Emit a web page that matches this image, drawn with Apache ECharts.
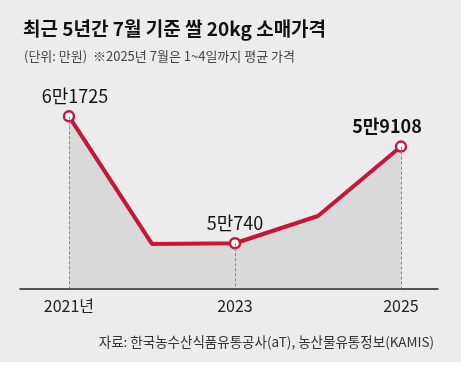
<!DOCTYPE html>
<html><head><meta charset="utf-8">
<script src="https://cdn.jsdelivr.net/npm/echarts@6/dist/echarts.min.js"></script>
<style>html,body{margin:0;padding:0;background:#fff;}#c{width:461px;height:367px;}</style>
</head><body><div id="c"></div>
<script>
const years = [2021, 2022, 2023, 2024, 2025];
const prices = [6.1725, 5.068, 5.074, 5.31, 5.9108];
const priceLabels = ['6만1725', '', '5만740', '', '5만9108'];
const markedYears = [2021, 2023, 2025];
const tickLabels = ['2021년', '2023', '2025'];
const yMin = 4.684, yMax = 6.32;

const font = '"Noto Sans CJK KR", "Noto Sans", sans-serif';
const chart = echarts.init(document.getElementById('c'), null, {renderer: 'canvas'});

const seriesData = years.map((y, i) => [y, prices[i]]);

const points = years.map((y, i) => {
  const marked = markedYears.includes(y);
  return {
    value: [y, prices[i]],
    symbol: marked ? 'circle' : 'none',
    label: {
      show: priceLabels[i] !== '',
      formatter: priceLabels[i],
      position: 'top',
      distance: 5,
      offset: i === 0 ? [6, 0] : (i === 4 ? [-14, 0] : [0, 0]),
      fontSize: 18,
      fontWeight: i === 4 ? 'bold' : 'normal',
      color: '#111',
      fontFamily: font
    }
  };
});

const dropLines = markedYears.map(y => {
  const v = prices[years.indexOf(y)];
  return [{coord: [y, v]}, {coord: [y, yMin]}];
});

chart.setOption({
  backgroundColor: '#ebeceb',
  animation: false,
  title: [
    {text: '최근 5년간 7월 기준 쌀 20kg 소매가격', left: 18, top: 14,
     textStyle: {fontSize: 19, fontWeight: 'bold', color: '#111', fontFamily: font}},
    {text: '(단위: 만원)  ※2025년 7월은 1~4일까지 평균 가격', left: 19, top: 45,
     textStyle: {fontSize: 13, fontWeight: 'normal', color: '#444', fontFamily: font}},
    {text: '자료: 한국농수산식품유통공사(aT), 농산물유통정보(KAMIS)', right: 22, top: 330,
     textStyle: {fontSize: 13.5, fontWeight: 'normal', color: '#333', fontFamily: font}}
  ],
  graphic: [{type: 'rect', shape: {x: 0, y: 362, width: 461, height: 5}, style: {fill: '#ffffff'}}],
  grid: {left: 20, right: 23, top: 99.3, bottom: 78.7},
  xAxis: {
    type: 'value', min: 2020.41, max: 2025.446,
    splitLine: {show: false},
    axisLine: {show: true, lineStyle: {color: '#222', width: 1.5}},
    axisTick: {show: false},
    axisLabel: {
      customValues: markedYears,
      formatter: v => tickLabels[markedYears.indexOf(v)] || '',
      fontSize: 16, color: '#222', margin: 10, fontFamily: font
    }
  },
  yAxis: {
    type: 'value', min: yMin, max: yMax, show: false, splitLine: {show: false}
  },
  series: [
    {
      type: 'line', data: seriesData, symbol: 'none', z: 1,
      lineStyle: {width: 0},
      areaStyle: {color: '#d9d9d9', opacity: 1, origin: 'start'}
    },
    {
      type: 'line', data: [], z: 2,
      markLine: {
        silent: true, symbol: 'none', label: {show: false},
        lineStyle: {color: '#888', type: [3, 2], width: 1},
        data: dropLines
      }
    },
    {
      type: 'line', data: points, z: 3,
      symbolSize: 10,
      lineStyle: {color: '#c8153a', width: 4},
      itemStyle: {color: '#ffffff', borderColor: '#c8153a', borderWidth: 2.5}
    }
  ]
});
</script></body></html>
